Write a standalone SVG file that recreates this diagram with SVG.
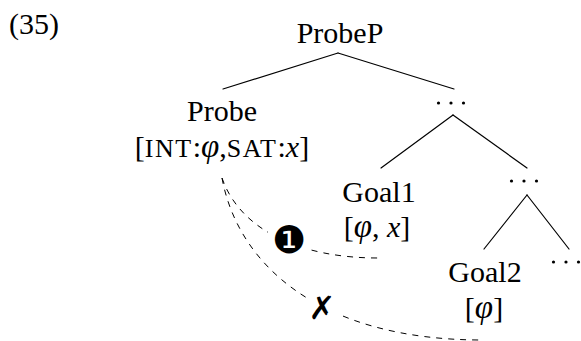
<svg xmlns="http://www.w3.org/2000/svg" width="581" height="341" viewBox="0 0 581 341">
  <style>
    .lbl { font-family: "Liberation Serif", "Times New Roman", serif; font-size: 30px; fill: #000; }
    .mid { text-anchor: middle; }
    .it { font-style: italic; }
    .phi { font-style: italic; font-size: 33px; }
    .sc { font-size: 26px; letter-spacing: 1.5px; }
    .edge { stroke: #000; stroke-width: 1.2; fill: none; stroke-linecap: round; }
    .agree { stroke: #000; stroke-width: 1; fill: none; stroke-dasharray: 6 6; }
    .mark { font-family: "DejaVu Sans", sans-serif; fill: #000; text-anchor: middle; }
    .dot { fill: #000; }
  </style>

  <!-- example number -->
  <text id="exnum" class="lbl" x="9" y="34">(35)</text>

  <!-- tree edges -->
  <g id="edges">
    <line class="edge" x1="338" y1="53" x2="223" y2="89"/>
    <line class="edge" x1="338" y1="53" x2="454" y2="89"/>
    <line class="edge" x1="453" y1="115" x2="381" y2="168"/>
    <line class="edge" x1="453" y1="115" x2="527" y2="168"/>
    <line class="edge" x1="527" y1="195" x2="484" y2="249"/>
    <line class="edge" x1="527" y1="195" x2="569" y2="249"/>
  </g>

  <!-- agreement paths with their labels -->
  <g id="agree-links">
    <path class="agree" d="M222,178 C240,230 300,258 378,258"/>
    <path class="agree" d="M222,178 C238,265 320,340 482,340"/>
    <rect x="268" y="226" width="42" height="34" fill="#fff"/>
    <rect x="306" y="291" width="36" height="34" fill="#fff"/>
    <text class="mark" x="289" y="253" font-size="38">❶</text>
    <text class="mark" x="322" y="319" font-size="32" font-weight="bold">✗</text>
  </g>

  <g id="probeP">
    <text class="lbl mid" x="340" y="43">ProbeP</text>
  </g>

  <g id="probe">
    <text class="lbl mid" x="222" y="121">Probe</text>
    <text class="lbl mid" x="222" y="157">[<tspan class="sc">INT</tspan>:<tspan class="phi">φ</tspan>,<tspan class="sc">SAT</tspan>:<tspan class="it">x</tspan>]</text>
  </g>

  <g id="dots1">
    <circle class="dot" cx="438.5" cy="103" r="1.6"/>
    <circle class="dot" cx="451" cy="103" r="1.6"/>
    <circle class="dot" cx="463.5" cy="103" r="1.6"/>
  </g>

  <g id="goal1">
    <text class="lbl mid" x="379" y="202">Goal1</text>
    <text class="lbl mid" x="377" y="237">[<tspan class="phi">φ</tspan>, <tspan class="it">x</tspan>]</text>
  </g>

  <g id="dots2">
    <circle class="dot" cx="511.5" cy="181" r="1.6"/>
    <circle class="dot" cx="524" cy="181" r="1.6"/>
    <circle class="dot" cx="536.5" cy="181" r="1.6"/>
  </g>

  <g id="goal2">
    <text class="lbl mid" x="485" y="282">Goal2</text>
    <text class="lbl mid" x="484" y="318">[<tspan class="phi">φ</tspan>]</text>
  </g>

  <g id="dots3">
    <circle class="dot" cx="553.5" cy="262" r="1.6"/>
    <circle class="dot" cx="566" cy="262" r="1.6"/>
    <circle class="dot" cx="578.5" cy="262" r="1.6"/>
  </g>
</svg>
